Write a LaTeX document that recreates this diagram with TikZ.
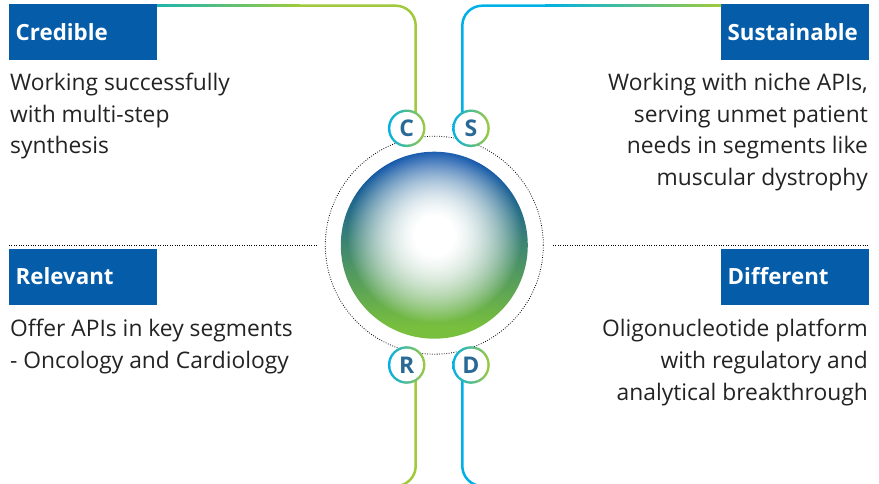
\documentclass[tikz,border=0pt]{standalone}
\usepackage{fontspec}
\setmainfont{Open Sans}
\usetikzlibrary{calc}
\definecolor{boxblue}{RGB}{5,92,168}
\definecolor{linegreen}{RGB}{160,202,60}
\definecolor{lineteal}{RGB}{30,180,175}
\definecolor{linecyan}{RGB}{0,176,230}
\definecolor{ringcyan}{RGB}{0,176,230}
\definecolor{ringgreen}{RGB}{160,202,60}
\definecolor{lettercol}{RGB}{40,105,150}
\definecolor{bodytext}{RGB}{35,35,35}
\pgfdeclarefunctionalshading{spherefn}{\pgfpoint{-50bp}{-50bp}}{\pgfpoint{50bp}{50bp}}{}{
 2 copy 2.7 sub dup mul exch dup mul add 625 div
 1.2 mul 0.05 sub dup 0 lt {pop 0} if dup 1 gt {pop 1} if
 exch 22 add 44 div dup 0 lt {pop 0} if dup 1 gt {pop 1} if
 3 -1 roll pop
 2 copy 0.45 mul 0.53 add mul 1 exch sub
 3 1 roll
 2 copy 0.45 mul 0.25 add mul 1 exch sub
 3 1 roll
 -0.41 mul 0.76 add mul 1 exch sub
}
\begin{document}
\begin{tikzpicture}[x=1pt,y=-1pt,
  headbox/.style={fill=boxblue, text=white, font=\bfseries\fontsize{22.3}{26}\selectfont,
    minimum width=148, minimum height=56, inner sep=0, text width=135, align=left, anchor=north west},
  body/.style={text=bodytext, font=\fontsize{22.8}{26}\selectfont, inner sep=0},
  gline/.style={draw=linegreen, line width=2.5, rounded corners=20},
  cline/.style={draw=linecyan, line width=2.5, rounded corners=20},
  dotline/.style={draw=black, line width=0.8, dash pattern=on 0.8 off 1.6},
  letter/.style={text=lettercol, font=\bfseries\fontsize{23}{24}\selectfont, inner sep=0}
]
\useasboundingbox (0,0) rectangle (879,484);
\clip (0,0) rectangle (879,484);

% centres
\coordinate (sph) at (434.3,245.2);
\coordinate (cC) at (406.7,128.3);
\coordinate (cS) at (471,128.3);
\coordinate (cR) at (406.7,365);
\coordinate (cD) at (471,365);

% heading boxes
\node[headbox] (cred) at (9,4) {Credible};
\node[headbox] (sust) at (721,4) {Sustainable};
\node[headbox] (rel) at (9,248.3) {Relevant};
\node[headbox] (diff) at (721,248.3) {Different};

% body text
\node[body, anchor=base west] (c1) at (10,90.7) {Working successfully};
\node[body, anchor=base west] (c2) at (10,122.3) {with multi-step};
\node[body, anchor=base west] (c3) at (10,154) {synthesis};

\node[body, anchor=base east] (s1) at (868,90.5) {Working with niche APIs,};
\node[body, anchor=base east] (s2) at (868,122.2) {serving unmet patient};
\node[body, anchor=base east] (s3) at (868,153.9) {needs in segments like};
\node[body, anchor=base east] (s4) at (868,185.6) {muscular dystrophy};

\node[body, anchor=base west] (r1) at (10,336) {Offer APIs in key segments};
\node[body, anchor=base west] (r2) at (10,368) {- Oncology and Cardiology};

\node[body, anchor=base east] (d1) at (868,336.5) {Oligonucleotide platform};
\node[body, anchor=base east] (d2) at (868,368.3) {with regulatory and};
\node[body, anchor=base east] (d3) at (868,400) {analytical breakthrough};

% dotted guide lines
\coordinate (dl0) at (9,245.3);
\coordinate (dl1) at (318,245.3);
\coordinate (dr0) at (553,245.3);
\coordinate (dr1) at (869,245.3);
\draw[dotline] (dl0) -- (dl1);
\draw[dotline] (dr0) -- (dr1);
\draw[dotline] (sph) circle (109);

% sphere
\shade[shading=spherefn] (sph) circle (93.5);

% connectors
\coordinate (tl0) at ($(cred.north east)+(0,1.7)$);
\coordinate (tr0) at ($(sust.north west)+(0,1.7)$);
\draw[gline] (tl0) -- (415.7,5.7) -- (415.7,128.3);
\shade[left color=lineteal, right color=linegreen] (157,4.45) rectangle (300,6.95);
\draw[cline] (462.3,128.3) -- (462.3,5.7) -- (tr0);
\shade[left color=linecyan, right color=linegreen] (545,4.45) rectangle (721,6.95);

\coordinate (bl0) at (300,486);
\coordinate (br0) at (580,486);
\draw[gline] (415.7,365) -- (415.7,486) -- (bl0);
\draw[cline] (462.3,365) -- (462.3,486) -- (br0);

% rings
\foreach \c in {cC,cS,cR,cD}{
  \shade[left color=ringcyan, right color=ringgreen] (\c) circle (18.8);
  \fill[white] (\c) circle (16.3);
}
\node[letter] (C) at (cC) {C};
\node[letter] (S) at (cS) {S};
\node[letter] (R) at (cR) {R};
\node[letter] (D) at (cD) {D};
\end{tikzpicture}
\end{document}
